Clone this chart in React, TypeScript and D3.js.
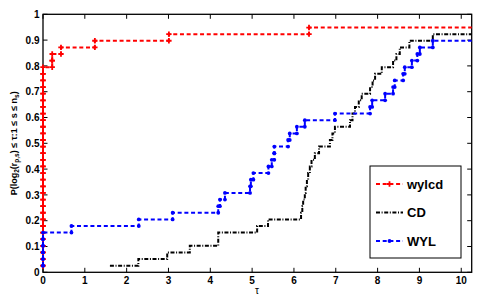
import React from 'react';
import * as d3 from 'd3';

// ---- data ----
const N_PROBLEMS = 39;
const X_MAX = 10.25;
const X_TICKS = [0, 1, 2, 3, 4, 5, 6, 7, 8, 9, 10];
const Y_TICKS = [0, 0.1, 0.2, 0.3, 0.4, 0.5, 0.6, 0.7, 0.8, 0.9, 1];
const Y_TICK_LABELS = ['0', '0.1', '0.2', '0.3', '0.4', '0.5', '0.6', '0.7', '0.8', '0.9', '1'];
const SERIES_NAMES = ['wylcd', 'CD', 'WYL'];

// sorted log2 performance ratios of the solved problems, per solver
const wylcdRatios = [
  0, 0, 0, 0, 0, 0, 0, 0, 0, 0, 0, 0, 0, 0, 0, 0, 0, 0, 0, 0, 0, 0, 0, 0, 0, 0, 0, 0, 0, 0, 0,
  0.22, 0.22, 0.43, 1.24, 3.01, 6.36,
];
const cdRatios = [
  1.6, 2.28, 2.97, 3.51, 4.19, 4.19, 5.12, 5.38, 6.17, 6.2, 6.22, 6.26, 6.28, 6.31, 6.34, 6.38,
  6.42, 6.5, 6.6, 6.86, 6.92, 6.98, 7.34, 7.4, 7.46, 7.55, 7.62, 7.82, 7.88, 7.94, 8.1, 8.37,
  8.45, 8.53, 8.76, 9.32,
];
const wylRatios = [
  0, 0, 0, 0, 0, 0, 0.68, 2.29, 3.1, 4.19, 4.23, 4.35, 4.95, 4.97, 5.03, 5.39, 5.47, 5.53, 5.53,
  5.86, 5.9, 6.07, 6.26, 6.98, 7.82, 7.87, 8.18, 8.37, 8.41, 8.61, 8.65, 8.82, 8.95, 9.01, 9.32,
];

// ---- layout ----
const W = 484;
const H = 298;
const LEFT = 43;
const RIGHT = 471.7;
const TOP = 14.3;
const BOTTOM = 272.3;
const FONT = '"Liberation Sans", Arial, Helvetica, sans-serif';

const x = d3.scaleLinear().domain([0, X_MAX]).range([LEFT, RIGHT]);
const y = d3.scaleLinear().domain([0, 1]).range([BOTTOM, TOP]);

function stairPoints(r: number[], n: number): [number, number][] {
  const pts: [number, number][] = [];
  r.forEach((v, i) => {
    if (i > 0) pts.push([v, i / n]);
    pts.push([v, (i + 1) / n]);
  });
  return pts;
}

const lineGen = d3
  .line<[number, number]>()
  .x((d) => x(d[0]))
  .y((d) => y(d[1]));

type Style = {
  color: string;
  dash: string;
  marker: 'plus' | 'dot' | 'none';
};

const STYLES: Style[] = [
  { color: '#ff0000', dash: '4,2.7', marker: 'plus' },
  { color: '#000000', dash: '4,1.6,1,1.6', marker: 'none' },
  { color: '#0000ff', dash: '4,2.7', marker: 'dot' },
];

function Marker({ cx, cy, s }: { cx: number; cy: number; s: Style }) {
  if (s.marker === 'plus') {
    return (
      <path
        d={`M${cx - 2.7},${cy}H${cx + 2.7}M${cx},${cy - 2.7}V${cy + 2.7}`}
        stroke={s.color}
        strokeWidth={1.8}
        fill="none"
      />
    );
  }
  if (s.marker === 'dot') {
    return <circle cx={cx} cy={cy} r={1.9} fill={s.color} />;
  }
  return null;
}

function Series({ ratios, s }: { ratios: number[]; s: Style }) {
  const pts = stairPoints(ratios, N_PROBLEMS);
  const full: [number, number][] = [...pts, [X_MAX, pts[pts.length - 1][1]]];
  return (
    <g>
      <path d={lineGen(full) || ''} fill="none" stroke={s.color} strokeWidth={2} strokeDasharray={s.dash} />
      {pts.map((p, i) => (
        <Marker key={i} cx={x(p[0])} cy={y(p[1])} s={s} />
      ))}
    </g>
  );
}

export default function App() {
  const allRatios = [wylcdRatios, cdRatios, wylRatios];
  const legendX = 370;
  const legendY = 166;
  const legendRows = [184, 212.5, 241];
  return (
    <svg
      width={W}
      height={H}
      style={{ position: 'absolute', left: 0, top: 0, background: '#fff' }}
      fontFamily={FONT}
    >
      <rect x={0} y={0} width={W} height={H} fill="#fff" />
      {/* axes box */}
      <rect x={LEFT} y={TOP} width={RIGHT - LEFT} height={BOTTOM - TOP} fill="#fff" stroke="#000" strokeWidth={1.3} />
      {/* ticks */}
      {X_TICKS.map((t) => (
        <g key={'xt' + t}>
          <line x1={x(t)} x2={x(t)} y1={BOTTOM} y2={BOTTOM - 4.5} stroke="#000" strokeWidth={1} />
          <line x1={x(t)} x2={x(t)} y1={TOP} y2={TOP + 4.5} stroke="#000" strokeWidth={1} />
          <text x={x(t)} y={283.5} textAnchor="middle" fontSize={10} fontWeight="bold" fill="#000">
            {t}
          </text>
        </g>
      ))}
      {Y_TICKS.map((t, i) => (
        <g key={'yt' + i}>
          <line x1={LEFT} x2={LEFT + 4.5} y1={y(t)} y2={y(t)} stroke="#000" strokeWidth={1} />
          <line x1={RIGHT} x2={RIGHT - 4.5} y1={y(t)} y2={y(t)} stroke="#000" strokeWidth={1} />
          <text x={39.5} y={y(t) + 3.6} textAnchor="end" fontSize={10} fontWeight="bold" fill="#000">
            {Y_TICK_LABELS[i]}
          </text>
        </g>
      ))}
      {/* series */}
      {allRatios.map((r, i) => (
        <Series key={SERIES_NAMES[i]} ratios={r} s={STYLES[i]} />
      ))}
      {/* axis labels */}
      <text x={257} y={293.5} textAnchor="middle" fontSize={10} fill="#000">
        τ
      </text>
      <text
        transform={`translate(17,${(TOP + BOTTOM) / 2}) rotate(-90)`}
        textAnchor="middle"
        fontSize={9}
        fontWeight="bold"
        fill="#000"
      >
        <tspan>P(log</tspan>
        <tspan fontSize={6.5} dy={2}>2</tspan>
        <tspan dy={-2}>(r</tspan>
        <tspan fontSize={6.5} dy={2}>p,s</tspan>
        <tspan dy={-2}>) ≤ τ:1 ≤ s ≤ n</tspan>
        <tspan fontSize={6.5} dy={2}>s</tspan>
        <tspan dy={-2}>)</tspan>
      </text>
      {/* legend */}
      <rect x={legendX} y={legendY} width={91} height={92} fill="#fff" stroke="#000" strokeWidth={1} />
      {SERIES_NAMES.map((name, i) => (
        <g key={'lg' + name}>
          <line
            x1={376}
            x2={403}
            y1={legendRows[i]}
            y2={legendRows[i]}
            stroke={STYLES[i].color}
            strokeWidth={2}
            strokeDasharray={STYLES[i].dash}
          />
          <Marker cx={389.5} cy={legendRows[i]} s={STYLES[i]} />
          <text x={407} y={legendRows[i] + 4.6} fontSize={13} fontWeight="bold" fill="#000">
            {name}
          </text>
        </g>
      ))}
    </svg>
  );
}
